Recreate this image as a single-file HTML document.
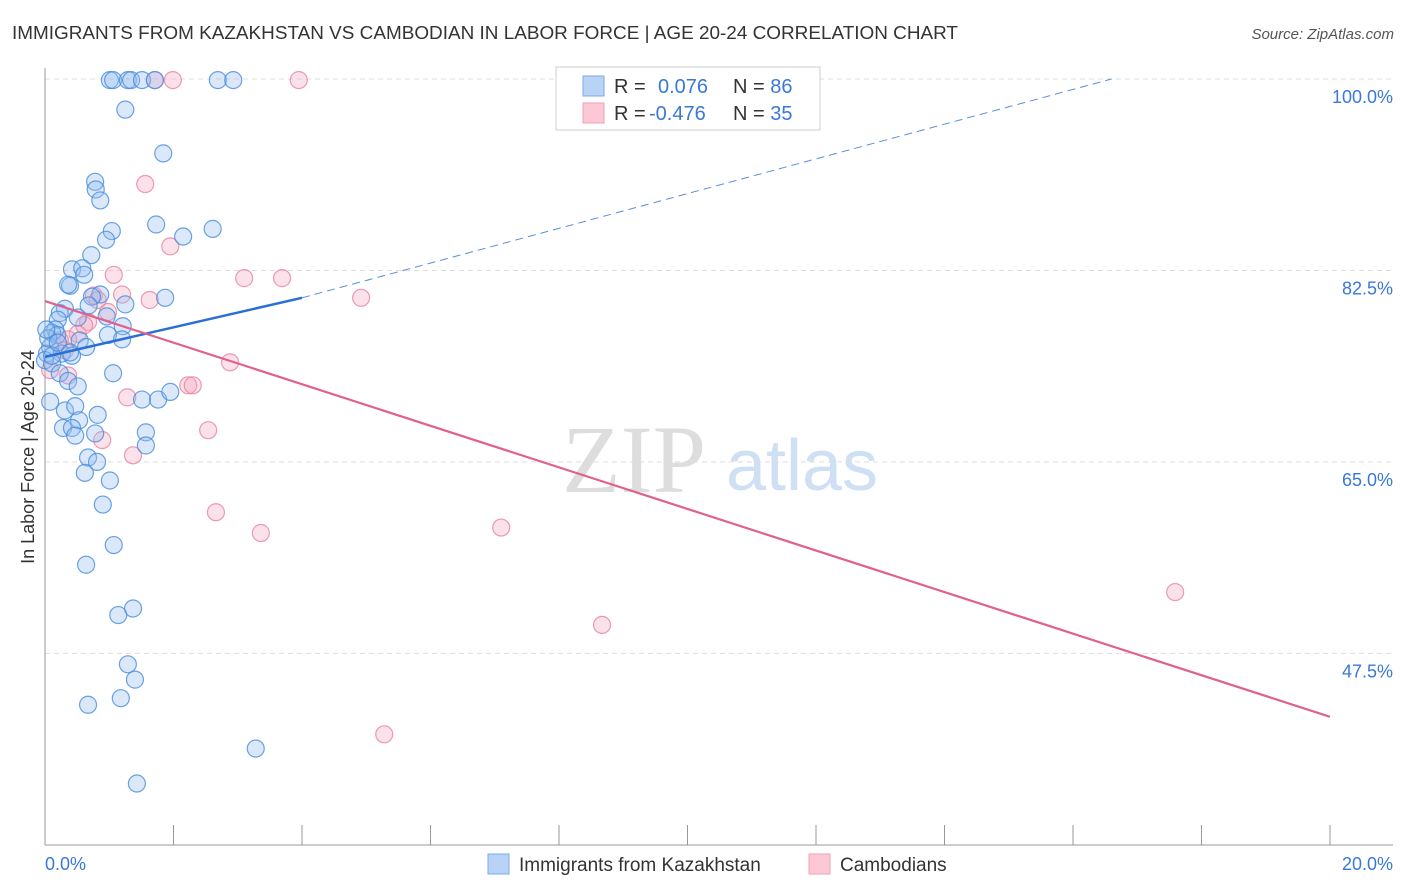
<!DOCTYPE html>
<html><head><meta charset="utf-8"><style>
body{margin:0;background:#fff;font-family:"Liberation Sans",sans-serif;}
svg{display:block}
</style></head><body>
<svg id="chart" width="1406" height="892" xmlns="http://www.w3.org/2000/svg">
<text x="12" y="39" font-size="18" fill="#333" textLength="946" lengthAdjust="spacingAndGlyphs">IMMIGRANTS FROM KAZAKHSTAN VS CAMBODIAN IN LABOR FORCE | AGE 20-24 CORRELATION CHART</text>
<text x="1394" y="39" font-size="15" fill="#555" font-style="italic" text-anchor="end">Source: ZipAtlas.com</text>
<text x="634" y="492" font-size="96" fill="#ddd" font-family="Liberation Serif,serif" text-anchor="middle">ZIP</text>
<text x="802" y="490" font-size="72" fill="#cfe0f4" text-anchor="middle">atlas</text>
<text transform="translate(34,457) rotate(-90)" font-size="18" fill="#333" text-anchor="middle">In Labor Force | Age 20-24</text>
<g id="grid"></g><g id="axes"></g><g id="pts"></g><g id="lines"></g>
<rect x="556" y="67" width="264" height="63" fill="#fff" stroke="#ccc"/>
<rect x="583" y="76" width="21" height="20" fill="#b8d3f5" stroke="#7aabea"/>
<rect x="583" y="103" width="21" height="20" fill="#fcc8d6" stroke="#f0a0b8"/>
<text x="614" y="93" font-size="20" fill="#333">R = <tspan fill="#3a78d8" x="658">0.076</tspan><tspan x="733" fill="#333">N = </tspan><tspan fill="#3a78d8">86</tspan></text>
<text x="614" y="120" font-size="20" fill="#333">R = <tspan fill="#3a78d8" x="649">-0.476</tspan><tspan x="733" fill="#333">N = </tspan><tspan fill="#3a78d8">35</tspan></text>
<rect x="488" y="854" width="21" height="20" fill="#b8d3f5" stroke="#7aabea"/>
<text x="519" y="871" font-size="19" fill="#333">Immigrants from Kazakhstan</text>
<rect x="809" y="854" width="21" height="20" fill="#fcc8d6" stroke="#f0a0b8"/>
<text x="840" y="871" font-size="19" fill="#333">Cambodians</text>
</svg>
<script>
const blueX=[1.01,1.06,1.29,1.34,1.51,1.71,2.69,2.93,1.25,1.84,0.78,0.79,0.86,1.73,2.61,2.15,1.04,0.95,0.72,0.42,0.58,0.61,0.39,0.36,0.86,0.73,0.31,0.68,1.25,1.87,0.23,0.20,0.51,0.96,1.21,0.16,0.11,0.19,0.98,1.20,0.54,0.08,0.64,0.03,0.26,0.42,0.00,0.11,1.06,0.23,0.36,0.51,0.08,0.31,0.47,0.82,1.51,1.76,1.95,0.53,0.28,0.42,0.47,0.78,1.57,1.57,0.67,0.81,0.62,1.01,0.90,1.07,0.64,1.37,1.14,1.29,1.40,1.18,0.67,3.28,1.43,0.05,0.02,0.11,0.20,0.39];
const blueY=[99.9,99.9,99.9,99.9,99.9,99.9,99.9,99.9,97.2,93.2,90.6,89.9,88.9,86.7,86.3,85.6,86.1,85.3,83.9,82.6,82.7,82.1,81.1,81.2,80.3,80.1,79.0,79.3,79.4,80.0,78.6,78.0,78.2,78.3,77.4,77.1,76.8,76.6,76.6,76.2,76.1,75.5,75.5,74.9,74.9,74.7,74.3,74.0,73.1,73.1,72.4,71.9,70.5,69.7,70.1,69.3,70.7,70.7,71.4,68.8,68.1,68.1,67.4,67.6,67.7,66.5,65.4,65.0,64.0,63.3,61.1,57.4,55.6,51.6,51.0,46.5,45.1,43.4,42.8,38.8,35.6,76.3,77.1,74.7,75.9,75.0];
const pinkX=[1.71,1.99,3.95,1.56,1.95,1.07,3.10,3.69,0.76,1.63,1.20,4.92,0.98,0.67,0.51,0.36,2.88,0.08,0.36,2.23,2.30,1.28,2.54,0.89,1.37,2.66,3.36,7.10,17.59,8.67,5.28,0.23,0.31,0.61,0.82];
const pinkY=[99.9,99.9,99.9,90.4,84.7,82.1,81.8,81.8,80.2,79.8,80.3,80.0,78.7,77.8,76.7,76.2,74.1,73.4,72.9,72.0,72.0,70.9,67.9,67.0,65.6,60.4,58.5,59.0,53.1,50.1,40.1,76.1,75.2,77.5,79.8];
const yTicks=[100,82.5,65,47.5];
const yTickLabels=["100.0%","82.5%","65.0%","47.5%"];
const xTickLabels=["0.0%","20.0%"];
const blueTrend=[[0,74.6],[4,80.0]];
const blueDash=[[4,80.0],[16.6,100]];
const pinkTrend=[[0,79.7],[20,41.7]];
const NS="http://www.w3.org/2000/svg";
const sx=v=>45+v*64.25, sy=v=>79+(100-v)*10.94;
function mk(tag,attrs,parent){const e=document.createElementNS(NS,tag);for(const k in attrs)e.setAttribute(k,attrs[k]);document.getElementById(parent).appendChild(e);return e;}
yTicks.forEach((t,i)=>{
 const l=mk('line',{x1:45,x2:1393,y1:sy(t),y2:sy(t),stroke:'#ddd','stroke-dasharray':'5,4'},'grid');
 
 
 const tx=mk('text',{x:1393,y:sy(t)+24,'font-size':18,fill:'#3a78d8','text-anchor':'end'},'grid');
 tx.textContent=yTickLabels[i];
 
 
});
let a=mk('line',{x1:45,x2:45,y1:68,y2:845,stroke:'#999'},'axes');


a=mk('line',{x1:45,x2:1393,y1:845,y2:845,stroke:'#999'},'axes');


for(let i=0;i<=10;i++){
 const t=mk('line',{x1:sx(i*2),x2:sx(i*2),y1:825,y2:845,stroke:'#999'},'axes');
 
 
}
[[0,'start'],[20,'end']].forEach((p,i)=>{
 const tx=mk('text',{x:i?1393:45,y:870,'font-size':18,fill:'#3a78d8','text-anchor':p[1]},'axes');
 tx.textContent=xTickLabels[i];
 
 
});
pinkX.forEach((x,i)=>{
 const c=mk('circle',{cx:sx(x),cy:sy(pinkY[i]),r:8.5,fill:'rgba(244,170,192,0.35)',stroke:'rgba(232,130,160,0.8)','stroke-width':1.2},'pts');
 
 
});
blueX.forEach((x,i)=>{
 const c=mk('circle',{cx:sx(x),cy:sy(blueY[i]),r:8.5,fill:'rgba(150,190,240,0.35)',stroke:'rgba(70,140,220,0.8)','stroke-width':1.2},'pts');
 
 
});
let L=mk('line',{x1:sx(blueDash[0][0]),y1:sy(blueDash[0][1]),x2:sx(blueDash[1][0]),y2:sy(blueDash[1][1]),stroke:'#5b8fd8','stroke-width':1,'stroke-dasharray':'8,5'},'lines');


L=mk('line',{x1:sx(blueTrend[0][0]),y1:sy(blueTrend[0][1]),x2:sx(blueTrend[1][0]),y2:sy(blueTrend[1][1]),stroke:'#2a6fd6','stroke-width':2.5},'lines');


L=mk('line',{x1:sx(pinkTrend[0][0]),y1:sy(pinkTrend[0][1]),x2:sx(pinkTrend[1][0]),y2:sy(pinkTrend[1][1]),stroke:'#e06090','stroke-width':2.2},'lines');


</script>
</body></html>
